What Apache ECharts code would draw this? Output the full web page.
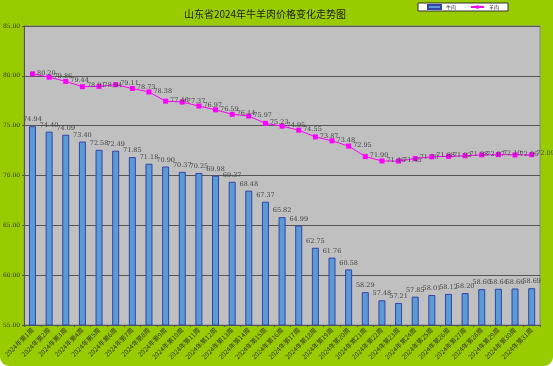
<!DOCTYPE html>
<html><head><meta charset="utf-8">
<script src="https://cdn.jsdelivr.net/npm/echarts@6/dist/echarts.min.js"></script>
<style>
html,body{margin:0;padding:0;background:#fff;}
#wrap{width:553px;height:366px;background:#99CC00;border-radius:0 0 9px 9px;overflow:hidden;}
#c{width:553px;height:366px;}
</style></head>
<body><div id="wrap"><div id="c"></div></div>
<script>
const titleText = '山东省2024年牛羊肉价格变化走势图';
const weeks = [];
for (let i = 1; i <= 31; i++) weeks.push('2024年第' + i + '周');
const beef = [74.94,74.40,74.09,73.40,72.58,72.49,71.85,71.18,70.90,70.37,70.25,69.98,69.37,68.48,67.37,65.82,64.99,62.75,61.76,60.58,58.29,57.48,57.21,57.85,58.01,58.12,58.20,58.60,58.64,58.66,58.69];
const lamb = [80.20,79.86,79.44,78.91,78.94,79.11,78.73,78.38,77.46,77.37,76.97,76.59,76.14,75.97,75.23,74.95,74.55,73.87,73.48,72.95,71.90,71.46,71.45,71.70,71.88,71.92,71.98,72.07,72.10,72.06,72.09];
const yTicks = {min:55, max:85, interval:5};

const chart = echarts.init(document.getElementById('c'), null, {renderer:'canvas'});
const serif = '"DejaVu Serif","Liberation Serif",serif';
chart.setOption({
  backgroundColor: 'transparent',
  animation: false,
  title: {
    text: titleText, left: 260, top: 4, textAlign: 'center',
    textStyle: {fontSize: 10, fontWeight: 'normal', color: '#222', fontFamily: '"Noto Sans CJK SC",sans-serif'}
  },
  legend: {
    right: 45, top: 3, padding: [1, 9], itemGap: 14,
    backgroundColor: '#fff', borderColor: '#333', borderWidth: 1,
    itemWidth: 13, itemHeight: 4,
    textStyle: {fontSize: 5, color: '#333', fontFamily: '"Noto Sans CJK SC",sans-serif'},
    data: [{name: '牛肉', icon: 'rect'}, {name: '羊肉'}]
  },
  grid: {
    left: 22, right: 13, top: 26, bottom: 41,
    show: true, backgroundColor: '#C0C0C0', borderColor: '#888', borderWidth: 1
  },
  xAxis: {
    type: 'category', data: weeks,
    axisLine: {lineStyle: {color: '#555'}},
    axisTick: {show: true, alignWithLabel: false, length: 2, lineStyle: {color: '#555'}},
    axisLabel: {interval: 0, rotate: 45, fontSize: 6.5, color: '#333', margin: 4, fontFamily: '"Noto Sans CJK SC",sans-serif'}
  },
  yAxis: {
    type: 'value', min: yTicks.min, max: yTicks.max, interval: yTicks.interval,
    axisLine: {show: true, lineStyle: {color: '#555'}},
    axisTick: {show: true, length: 2, lineStyle: {color: '#555'}},
    splitLine: {lineStyle: {color: '#555', width: 1}},
    axisLabel: {fontSize: 6, color: '#333', margin: 4, fontFamily: serif, formatter: v => v.toFixed(2)}
  },
  series: [
    {
      name: '牛肉', type: 'bar', data: beef, barWidth: 7,
      itemStyle: {color: '#5B9BD5', borderColor: '#3344AA', borderWidth: 1},
      label: {show: true, position: 'top', distance: 3, fontSize: 6.5, color: '#444', fontFamily: serif, formatter: p => p.value.toFixed(2)}
    },
    {
      name: '羊肉', type: 'line', data: lamb,
      symbol: 'rect', symbolSize: 5,
      lineStyle: {color: '#FF00FF', width: 1},
      itemStyle: {color: '#FF00FF'},
      label: {show: true, position: 'right', distance: 2, offset: [0, -1], fontSize: 6.5, color: '#444', fontFamily: serif, formatter: p => p.value.toFixed(2)}
    }
  ]
});
</script></body></html>
